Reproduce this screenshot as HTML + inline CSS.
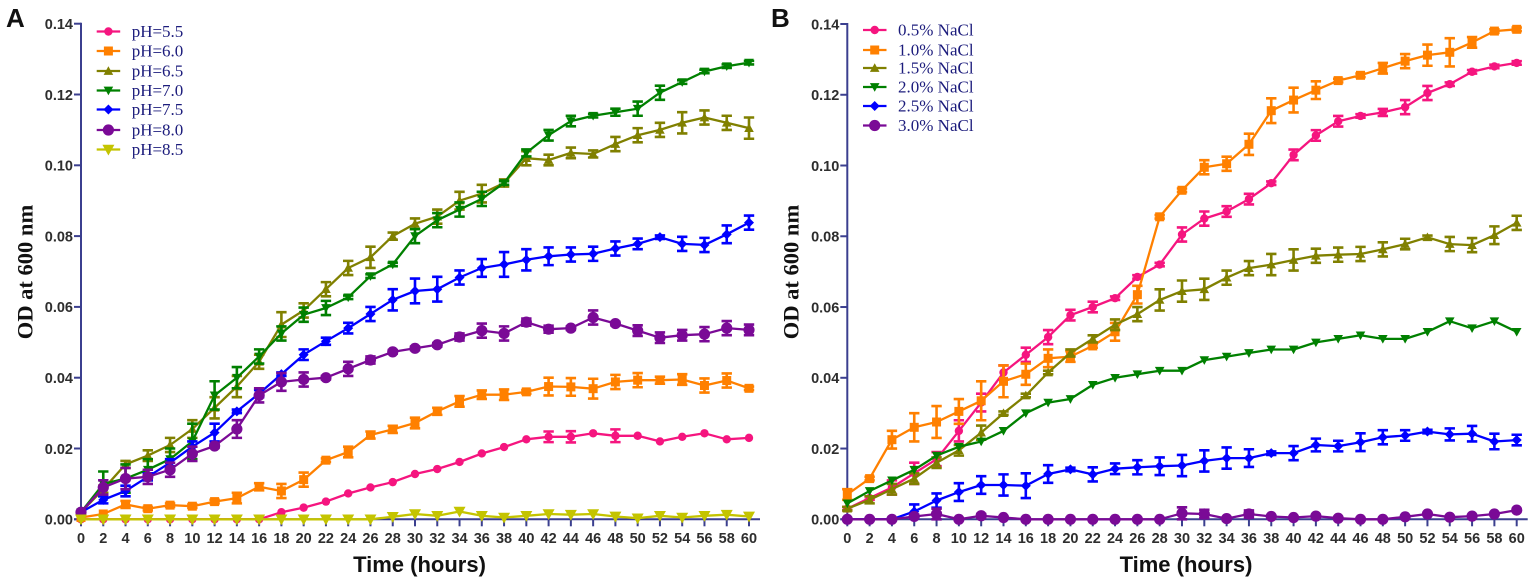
<!DOCTYPE html>
<html>
<head>
<meta charset="utf-8">
<title>OD at 600 nm growth curves</title>
<style>
html,body{margin:0;padding:0;background:#fff;width:1535px;height:583px;overflow:hidden}
svg{display:block;filter:blur(0.35px)}
text{white-space:pre}
.tick{font-family:"Liberation Sans",sans-serif;font-weight:bold;font-size:14.5px;fill:#2e2e2e}
.ytitle{font-family:"Liberation Serif",serif;font-weight:bold;font-size:22.5px;fill:#111}
.xtitle{font-family:"Liberation Sans",sans-serif;font-weight:bold;font-size:22px;fill:#111}
.panel{font-family:"Liberation Sans",sans-serif;font-weight:bold;font-size:26px;fill:#111}
.legend{font-family:"Liberation Serif",serif;font-size:17px;fill:#1c1c7c}
</style>
</head>
<body>
<svg id="figure" xmlns="http://www.w3.org/2000/svg" width="1535" height="583" viewBox="0 0 1535 583">
<rect width="1535" height="583" fill="#fff"/>
</svg>
<script>
const hours = [0,2,4,6,8,10,12,14,16,18,20,22,24,26,28,30,32,34,36,38,40,42,44,46,48,50,52,54,56,58,60];
const yTicks = [0,0.02,0.04,0.06,0.08,0.10,0.12,0.14];

const ph55 = [0,0,0,0,0,0,0,0,0,.002,.0033,.005,.0073,.009,.0105,.0128,.0142,.0162,.0186,.0204,.0226,.0233,.0233,.0243,.0236,.0236,.022,.0233,.0243,.0226,.023];
const ph55Err = [0,0,0,0,0,0,0,0,0,0,0,0,0,0,0,0,0,0,0,0,0,.0015,.0016,0,.0018,0,0,0,0,0,0];
const ph60 = [.0005,.0015,.0042,.003,.004,.0037,.005,.006,.0092,.008,.0112,.0167,.019,.0238,.0254,.0272,.0305,.0333,.0352,.0352,.036,.0375,.0374,.0369,.0388,.0393,.0393,.0395,.0378,.0392,.037];
const ph60Err = [0,0,.001,.0005,.0005,.0005,.0005,.0015,.001,.002,.002,.0005,.0015,.001,.001,.0015,.001,.0015,.0012,.0015,.0005,.0025,.0025,.0028,.002,.002,.001,.0015,.002,.002,.0005];
const ph65 = [.002,.0085,.0155,.018,.021,.0255,.0315,.0375,.0445,.055,.059,.065,.071,.074,.080,.0835,.0855,.090,.092,.095,.102,.1015,.1035,.1032,.106,.1085,.110,.112,.1135,.112,.1105];
const ph65Err = [0,.001,.001,.0015,.002,.0025,.003,.003,.002,.0035,.002,.002,.002,.003,.001,.0015,.002,.0025,.0025,.001,.002,.0015,.0015,.001,.002,.002,.002,.003,.002,.002,.003];
const ph70 = [.002,.010,.0115,.014,.017,.022,.035,.040,.046,.0525,.0578,.0597,.0627,.0687,.072,.080,.0845,.0875,.0905,.095,.1035,.1085,.1125,.114,.115,.116,.1205,.1235,.1265,.128,.129];
const ph70Err = [0,.0035,.004,.003,.003,.005,.004,.003,.002,.002,.002,.002,.0005,.0005,.0005,.002,.002,.002,.002,.0005,.001,.0015,.0015,.0005,.001,.002,.002,.0005,.0005,.0005,.0005];
const ph75 = [.002,.0055,.008,.012,.016,.0205,.0245,.0305,.0355,.041,.0465,.0503,.054,.058,.062,.0645,.065,.0683,.071,.072,.0733,.0743,.0748,.075,.0765,.0778,.0797,.0778,.0775,.0805,.0838];
const ph75Err = [0,.001,.0015,.001,.001,.0015,.0025,.0005,.001,.0005,.0015,.001,.0015,.002,.003,.0035,.0035,.002,.0025,.0035,.003,.0025,.002,.002,.002,.0015,.0005,.002,.002,.0025,.002];
const ph80 = [.002,.009,.0115,.012,.014,.0185,.0207,.0255,.035,.0388,.0395,.04,.0425,.045,.0473,.0483,.0493,.0515,.0533,.0525,.0557,.0537,.054,.057,.0553,.0533,.0513,.052,.0523,.054,.0535];
const ph80Err = [0,.002,.003,.002,.002,.002,.0005,.0025,.002,.0025,.002,.0005,.002,.001,.0005,.0005,.0005,.001,.002,.002,.001,.001,.0005,.002,.0005,.0015,.0015,.0015,.002,.002,.0015];
const ph85 = [0,0,0,0,0,0,0,0,0,0,0,0,0,0,.0007,.0015,.001,.0022,.001,.0005,.001,.0015,.0013,.0015,.0008,.0003,.001,.0005,.001,.0013,.0008];
const ph85Err = [0,0,0,0,0,0,0,0,0,0,0,0,0,0,0,0,0,0,0,0,0,0,0,0,0,0,0,0,0,0,0];

const nacl05 = [.003,.006,.009,.013,.017,.025,.033,.0415,.0465,.0515,.0577,.06,.0625,.0685,.072,.0805,.085,.087,.0905,.095,.103,.1085,.1125,.114,.115,.1165,.1205,.123,.1265,.128,.129];
const nacl05Err = [.0005,.0005,.002,.003,.002,.003,.0025,.002,.002,.002,.0015,.0015,.0005,.0005,.0005,.002,.002,.0015,.0015,.0005,.0015,.0015,.0015,.0005,.001,.002,.002,.0005,.0005,.0005,.0005];
const nacl10 = [.007,.0115,.0225,.026,.0275,.0305,.0335,.039,.041,.0455,.046,.049,.053,.0635,.0855,.093,.0995,.1005,.106,.1155,.1185,.1213,.124,.1255,.1275,.1295,.1312,.132,.1348,.138,.1385];
const nacl10Err = [.0015,.0005,.0025,.004,.0045,.0035,.0055,.0045,.003,.0025,.0015,.0005,.0025,.0025,.0005,.0005,.002,.002,.003,.0035,.0035,.0025,.0005,.0005,.0015,.002,.003,.004,.0015,.0005,.0005];
const nacl15 = [.003,.0055,.0085,.0115,.016,.0195,.0245,.030,.035,.0415,.047,.051,.055,.058,.062,.0645,.065,.0683,.071,.072,.0733,.0745,.0748,.075,.0763,.0778,.0797,.0778,.0775,.0803,.0838];
const nacl15Err = [.0005,.001,.0015,.0015,.0015,.0015,.002,.0005,.0005,.0005,.001,.001,.0015,.002,.003,.003,.003,.002,.002,.003,.003,.002,.002,.002,.002,.0015,.0005,.002,.002,.0025,.002];
const nacl20 = [.0045,.008,.011,.014,.018,.0205,.022,.025,.030,.033,.034,.038,.040,.041,.042,.042,.045,.046,.047,.048,.048,.050,.051,.052,.051,.051,.053,.056,.054,.056,.053];
const nacl20Err = [0,0,0,0,0,0,0,0,0,0,0,0,0,0,0,0,0,0,0,0,0,0,0,0,0,0,0,0,0,0,0];
const nacl25 = [0,0,0,.0022,.0053,.0077,.0097,.0097,.0095,.0128,.0141,.0127,.0143,.0147,.015,.0152,.0165,.0173,.0173,.0187,.0187,.021,.0207,.0218,.0232,.0237,.0248,.024,.0242,.022,.0224];
const nacl25Err = [0,0,0,.002,.002,.0025,.0025,.003,.0035,.0025,.0005,.002,.0015,.002,.0025,.003,.003,.003,.0025,.0005,.002,.0018,.0015,.0025,.002,.0015,.0005,.0017,.0022,.0022,.0015];
const nacl30 = [0,0,0,.0008,.0015,0,.001,.0005,0,0,0,0,0,0,0,.0017,.0015,.0002,.0015,.0008,.0005,.0009,.0003,0,0,.0007,.0015,.0006,.0009,.0015,.0026];
const nacl30Err = [0,0,0,.0005,.0015,0,.0005,0,0,0,0,0,0,0,0,.0017,.0012,0,.001,0,0,0,0,0,0,0,0,0,0,0,0];

const SVGNS = 'http://www.w3.org/2000/svg';
const svg = document.getElementById('figure');
const AXIS = '#3b3f8f';

function add(parent, tag, attrs, text) {
  const el = document.createElementNS(SVGNS, tag);
  for (const k in attrs) el.setAttribute(k, attrs[k]);
  if (text !== undefined) el.textContent = text;
  parent.appendChild(el);
  return el;
}

function marker(g, kind, x, y, r, color) {
  let el;
  if (kind === 'circle') {
    el = add(g, 'circle', {cx: x, cy: y, r: r, fill: color});
  } else if (kind === 'square') {
    el = add(g, 'rect', {x: x - r, y: y - r, width: 2 * r, height: 2 * r, fill: color});
  } else if (kind === 'up') {
    el = add(g, 'polygon', {points: `${x},${y - r} ${x + r},${y + r * .8} ${x - r},${y + r * .8}`, fill: color});
  } else if (kind === 'down') {
    el = add(g, 'polygon', {points: `${x - r},${y - r * .8} ${x + r},${y - r * .8} ${x},${y + r}`, fill: color});
  } else {
    el = add(g, 'polygon', {points: `${x},${y - r} ${x + r},${y} ${x},${y + r} ${x - r},${y}`, fill: color});
  }
  
  
  return el;
}

function drawPanel(p) {
  const xScale = h => p.x0 + (h / 60) * (p.x1 - p.x0);
  const yScale = v => p.y0 - (v / 0.14) * (p.y0 - p.y1);

  const root = add(svg, 'g', {});
  
  

  const letter = add(root, 'text', {x: p.letterX, y: 27, class: 'panel'}, p.letter);
  
  

  const yAxis = add(root, 'line', {x1: p.x0, x2: p.x0, y1: p.y1 - 1, y2: p.y0 + 1, stroke: AXIS, 'stroke-width': 2});
  
  
  const xAxis = add(root, 'line', {x1: p.x0 - 7, x2: p.x1 + 11, y1: p.y0, y2: p.y0, stroke: AXIS, 'stroke-width': 2});
  
  

  yTicks.forEach(v => {
    const y = yScale(v);
    const t = add(root, 'line', {x1: p.x0 - 7, x2: p.x0, y1: y, y2: y, stroke: AXIS, 'stroke-width': 2});
    
    
    const l = add(root, 'text', {x: p.x0 - 8, y: y + 5.3, 'text-anchor': 'end', class: 'tick'}, v.toFixed(2));
    
    
  });
  hours.forEach(h => {
    const x = xScale(h);
    const t = add(root, 'line', {x1: x, x2: x, y1: p.y0, y2: p.y0 + 7, stroke: AXIS, 'stroke-width': 2});
    
    
    const l = add(root, 'text', {x: x, y: 543, 'text-anchor': 'middle', class: 'tick'}, String(h));
    
    
  });

  const yt = add(root, 'text', {x: 0, y: 0, 'text-anchor': 'middle', class: 'ytitle', transform: `translate(${p.yTitleX},272) rotate(-90)`}, 'OD at 600 nm');
  
  
  const xt = add(root, 'text', {x: p.xTitleX, y: 572, 'text-anchor': 'middle', class: 'xtitle'}, 'Time (hours)');
  
  

  p.series.forEach(s => {
    const g = add(root, 'g', {});
    
    
    const pts = hours.map((h, i) => xScale(h).toFixed(1) + ',' + yScale(s.values[i]).toFixed(1)).join(' ');
    const line = add(g, 'polyline', {points: pts, fill: 'none', stroke: s.color, 'stroke-width': 2.3, 'stroke-linejoin': 'round'});
    
    
    hours.forEach((h, i) => {
      const e = s.errors[i];
      if (e > 0) {
        const x = xScale(h), hi = yScale(s.values[i] + e), lo = yScale(Math.max(0, s.values[i] - e));
        const bar = add(g, 'path', {d: `M${x - 5.2} ${hi}H${x + 5.2}M${x} ${hi}V${lo}M${x - 5.2} ${lo}H${x + 5.2}`, fill: 'none', stroke: s.color, 'stroke-width': 2.6});
        
        
      }
      marker(g, s.kind, xScale(h), yScale(s.values[i]), s.size, s.color);
    });
  });

  p.series.forEach((s, i) => {
    const y = p.legendRows[i];
    const g = add(root, 'g', {});
    
    
    add(g, 'line', {x1: p.legendX, x2: p.legendX + 23.5, y1: y, y2: y, stroke: s.color, 'stroke-width': 2.2});
    marker(g, s.kind, p.legendX + 11.7, y, s.size, s.color);
    add(g, 'text', {x: p.legendX + 35, y: y + 5.5, class: 'legend'}, s.label);
  });
}

const PINK = '#f5157f', ORANGE = '#ff8000', OLIVE = '#808000', GREEN = '#008000', BLUE = '#0000ff', PURPLE = '#7a0a96', YELLOW = '#c4c400';

drawPanel({
  id: 'panel-a', letter: 'A', letterX: 6, x0: 81, x1: 749, y0: 519.3, y1: 23.7,
  yTitleX: 32.7, xTitleX: 419.5, legendX: 96.7,
  legendRows: [31.5, 51, 71, 90.5, 109.5, 130, 149.5],
  series: [
    {key: 'ph-5-5', label: 'pH=5.5', values: ph55, errors: ph55Err, color: PINK, kind: 'circle', size: 4.2},
    {key: 'ph-6-0', label: 'pH=6.0', values: ph60, errors: ph60Err, color: ORANGE, kind: 'square', size: 4.5},
    {key: 'ph-6-5', label: 'pH=6.5', values: ph65, errors: ph65Err, color: OLIVE, kind: 'up', size: 4.8},
    {key: 'ph-7-0', label: 'pH=7.0', values: ph70, errors: ph70Err, color: GREEN, kind: 'down', size: 4.8},
    {key: 'ph-7-5', label: 'pH=7.5', values: ph75, errors: ph75Err, color: BLUE, kind: 'diamond', size: 5},
    {key: 'ph-8-0', label: 'pH=8.0', values: ph80, errors: ph80Err, color: PURPLE, kind: 'circle', size: 5.6},
    {key: 'ph-8-5', label: 'pH=8.5', values: ph85, errors: ph85Err, color: YELLOW, kind: 'down', size: 6}
  ]
});

drawPanel({
  id: 'panel-b', letter: 'B', letterX: 771, x0: 847.3, x1: 1516.7, y0: 519.3, y1: 24,
  yTitleX: 798.3, xTitleX: 1186, legendX: 863,
  legendRows: [30, 50, 68, 87, 106, 125.5],
  series: [
    {key: 'nacl-0-5', label: '0.5% NaCl', values: nacl05, errors: nacl05Err, color: PINK, kind: 'circle', size: 4.2},
    {key: 'nacl-1-0', label: '1.0% NaCl', values: nacl10, errors: nacl10Err, color: ORANGE, kind: 'square', size: 4.5},
    {key: 'nacl-1-5', label: '1.5% NaCl', values: nacl15, errors: nacl15Err, color: OLIVE, kind: 'up', size: 4.8},
    {key: 'nacl-2-0', label: '2.0% NaCl', values: nacl20, errors: nacl20Err, color: GREEN, kind: 'down', size: 4.8},
    {key: 'nacl-2-5', label: '2.5% NaCl', values: nacl25, errors: nacl25Err, color: BLUE, kind: 'diamond', size: 5},
    {key: 'nacl-3-0', label: '3.0% NaCl', values: nacl30, errors: nacl30Err, color: PURPLE, kind: 'circle', size: 5.6}
  ]
});
</script>
</body>
</html>
